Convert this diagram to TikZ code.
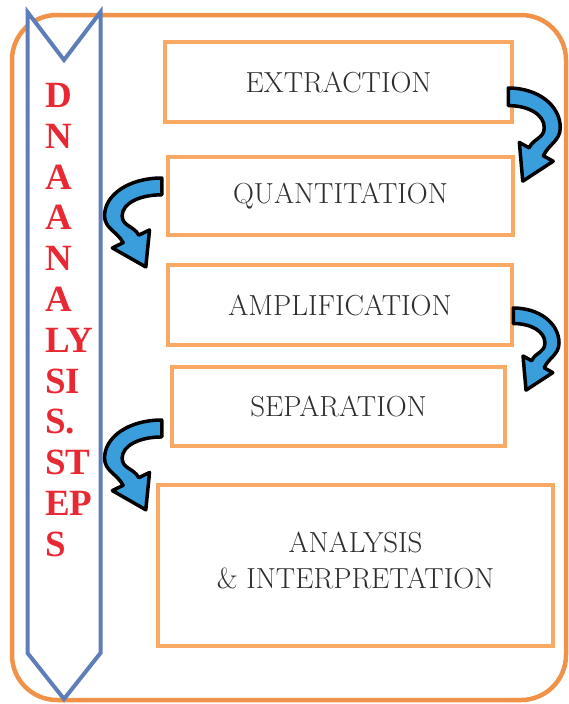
\documentclass[tikz,border=0pt]{standalone}
\usepackage{fontspec}
\newfontfamily\bannerfont{Liberation Serif}
\usepackage{tikz}
\usetikzlibrary{positioning, calc}

\definecolor{frameorange}{RGB}{240,146,72}
\definecolor{boxorange}{RGB}{248,170,100}
\definecolor{bannerblue}{RGB}{95,125,185}
\definecolor{bannerred}{RGB}{232,40,50}
\definecolor{arrowblue}{RGB}{58,158,220}
\definecolor{labelgray}{RGB}{45,45,45}

\begin{document}
\begin{tikzpicture}[x=1pt, y=1pt, yscale=-1,
    stepbox/.style={draw=boxorange, line width=4.5pt, inner sep=0pt, text=labelgray,
                    font=\fontsize{29}{36}\selectfont, align=center},
    bentarrow/.pic={
      \filldraw[fill=arrowblue, draw=black, line width=3.5pt, line join=round]
        (0,0) .. controls (30,0) and (52,16) .. (52,36)
        .. controls (52,48) and (40.5,51) .. (35.1,61.6)
        -- (44.9,66.6) -- (14.5,84.7) -- (11.1,49.5) -- (20.9,54.4)
        .. controls (25.4,45.5) and (36,46) .. (36,36)
        .. controls (36,24) and (20,16) .. (0,16) -- cycle;
    }]
    \useasboundingbox (0,0) rectangle (569,704);
    % frame and banner
    \draw[frameorange, line width=4.5pt, rounded corners=45pt] (12,15) rectangle (566,700);
    \draw[bannerblue, fill=white, line width=4pt]
      (27.5,12) -- (64,60) -- (100.5,12) -- (100.5,653) -- (64,699) -- (27.5,653) -- cycle;
    \node[anchor=north west, inner sep=0pt, align=left, text=bannerred,
          font=\bannerfont\bfseries\fontsize{37}{40.8}\selectfont] (title) at (45,83)
      {D\\N\\A\\A\\N\\A\\LY\\SI\\S.\\ST\\EP\\S};

    % steps
    \node[stepbox, minimum width=347pt, minimum height=80pt] (extraction) at (338.5,82) {EXTRACTION};
    \node[stepbox, minimum width=345pt, minimum height=78pt] (quantitation) at (340.5,196) {QUANTITATION};
    \node[stepbox, minimum width=344pt, minimum height=80pt] (amplification) at (340,305) {AMPLIFICATION};
    \node[stepbox, minimum width=333pt, minimum height=79pt] (separation) at (338.5,406.5) {SEPARATION};
    \node[stepbox, minimum width=395pt, minimum height=161pt, text depth=10pt] (analysis) at (355.5,565.5)
      {ANALYSIS\\ \& INTERPRETATION};

    % bent arrows between steps
    \pic[transform shape, yscale=1.1] at ($(extraction.east)+(-6,6)$) {bentarrow};
    \pic[transform shape, xscale=-1.1, yscale=1.05] at ($(quantitation.west)+(-4,-18)$) {bentarrow};
    \pic[transform shape, xscale=0.88, yscale=0.97] at ($(amplification.east)+(-1,3)$) {bentarrow};
    \pic[transform shape, xscale=-1.1, yscale=1.06] at ($(separation.west)+(-8,13.5)$) {bentarrow};
\end{tikzpicture}
\end{document}
